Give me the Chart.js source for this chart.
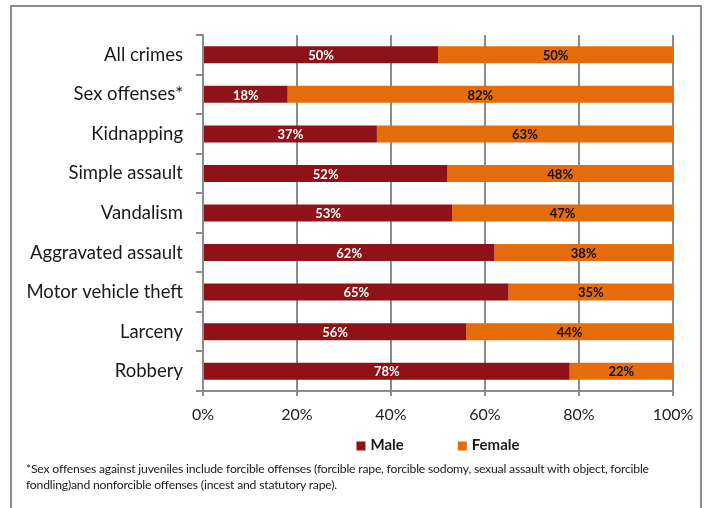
<!DOCTYPE html>
<html>
<head>
<meta charset="utf-8">
<script src="https://cdn.jsdelivr.net/npm/chart.js@4.4.1/dist/chart.umd.min.js"></script>
<style>
  html, body { margin: 0; padding: 0; background: #fff; }
  #wrap { position: relative; width: 709px; height: 508px; overflow: hidden; }
  #frame { position: absolute; left: 10px; top: 5px; width: 692px; height: 520px;
           border: 2px solid #8c8c8c; box-sizing: border-box; pointer-events: none; }
  #chart { position: absolute; left: 0; top: 0; }
  #note { position: absolute; left: 26px; top: 461px; width: 670px;
          font-family: Lato, sans-serif; font-size: 12.2px; line-height: 16px;
          color: #1a1a1a; letter-spacing: -0.2px; }
</style>
</head>
<body>
<div id="wrap">
  <canvas id="chart" width="709" height="508"></canvas>
  <div id="frame"></div>
  <div id="note">*Sex offenses against juveniles include forcible offenses (forcible rape, forcible sodomy, sexual assault with object, forcible<br>fondling)and nonforcible offenses (incest and statutory rape).</div>
</div>
<script>
// Share of juvenile victims by sex, per offense type
const categories = ["All crimes", "Sex offenses*", "Kidnapping", "Simple assault", "Vandalism",
                    "Aggravated assault", "Motor vehicle theft", "Larceny", "Robbery"];
const maleShare   = [50, 18, 37, 52, 53, 62, 65, 56, 78];
const femaleShare = [50, 82, 63, 48, 47, 38, 35, 44, 22];
const xTicks = [0, 20, 40, 60, 80, 100];

const MALE = "#8f1219";
const FEMALE = "#e46c0a";
const GRID = "#8c8c8c";

// Percent labels inside each bar segment
const barLabels = {
  id: "barLabels",
  afterDatasetsDraw(chart) {
    const ctx = chart.ctx;
    ctx.save();
    ctx.font = "bold 13px Lato, sans-serif";
    ctx.textAlign = "center";
    ctx.textBaseline = "middle";
    chart.data.datasets.forEach((ds, di) => {
      const meta = chart.getDatasetMeta(di);
      ctx.fillStyle = di === 0 ? "#ffffff" : "#111111";
      meta.data.forEach((bar, i) => {
        const p = bar.getProps(["x", "y", "base"], true);
        ctx.fillText(ds.data[i] + "%", (p.x + p.base) / 2, p.y + 1);
      });
    });
    ctx.restore();
  }
};

// Legend centred under the plot area
const bottomLegend = {
  id: "bottomLegend",
  afterDraw(chart) {
    const ctx = chart.ctx;
    const area = chart.chartArea;
    ctx.save();
    ctx.font = "bold 15px Lato, sans-serif";
    ctx.textBaseline = "middle";
    const box = 9, gapText = 5, gapItem = 54;
    const items = chart.data.datasets.map(d => ({ label: d.label, color: d.backgroundColor,
                                                   w: ctx.measureText(d.label).width }));
    let total = 0;
    items.forEach((it, i) => { total += box + gapText + it.w + (i ? gapItem : 0); });
    let x = (area.left + area.right) / 2 - total / 2;
    const y = area.bottom + 54;
    items.forEach((it, i) => {
      if (i) x += gapItem;
      ctx.fillStyle = it.color;
      ctx.fillRect(x, y - box / 2 + 1, box, box);
      x += box + gapText;
      ctx.fillStyle = "#1a1a1a";
      ctx.textAlign = "left";
      ctx.fillText(it.label, x, y);
      x += it.w;
    });
    ctx.restore();
  }
};

new Chart(document.getElementById("chart"), {
  type: "bar",
  data: {
    labels: categories,
    datasets: [
      { label: "Male", data: maleShare, backgroundColor: MALE },
      { label: "Female", data: femaleShare, backgroundColor: FEMALE }
    ]
  },
  options: {
    indexAxis: "y",
    responsive: false,
    animation: false,
    layout: { padding: { left: 0, right: 36, top: 35, bottom: 81 } },
    datasets: { bar: { categoryPercentage: 1, barPercentage: 0.43, borderWidth: 0 } },
    plugins: { legend: { display: false }, tooltip: { enabled: false } },
    scales: {
      x: {
        stacked: true,
        min: 0, max: 100,
        afterBuildTicks(scale) { scale.ticks = xTicks.map(v => ({ value: v })); },
        afterFit(scale) { scale.height = 36; },
        grid: { color: GRID, lineWidth: 2, tickLength: 5 },
        border: { color: GRID, width: 2 },
        ticks: { padding: 9, color: "#222", font: { family: "Lato, sans-serif", size: 16 },
                 callback: v => v + "%" }
      },
      y: {
        stacked: true,
        afterFit(scale) { scale.width = 203; },
        grid: { drawOnChartArea: false, offset: true, color: GRID, lineWidth: 2, tickLength: 7 },
        border: { color: GRID, width: 2 },
        ticks: { padding: 13, color: "#1a1a1a", font: { family: "Lato, sans-serif", size: 18.5 } }
      }
    }
  },
  plugins: [barLabels, bottomLegend]
});
</script>
</body>
</html>
